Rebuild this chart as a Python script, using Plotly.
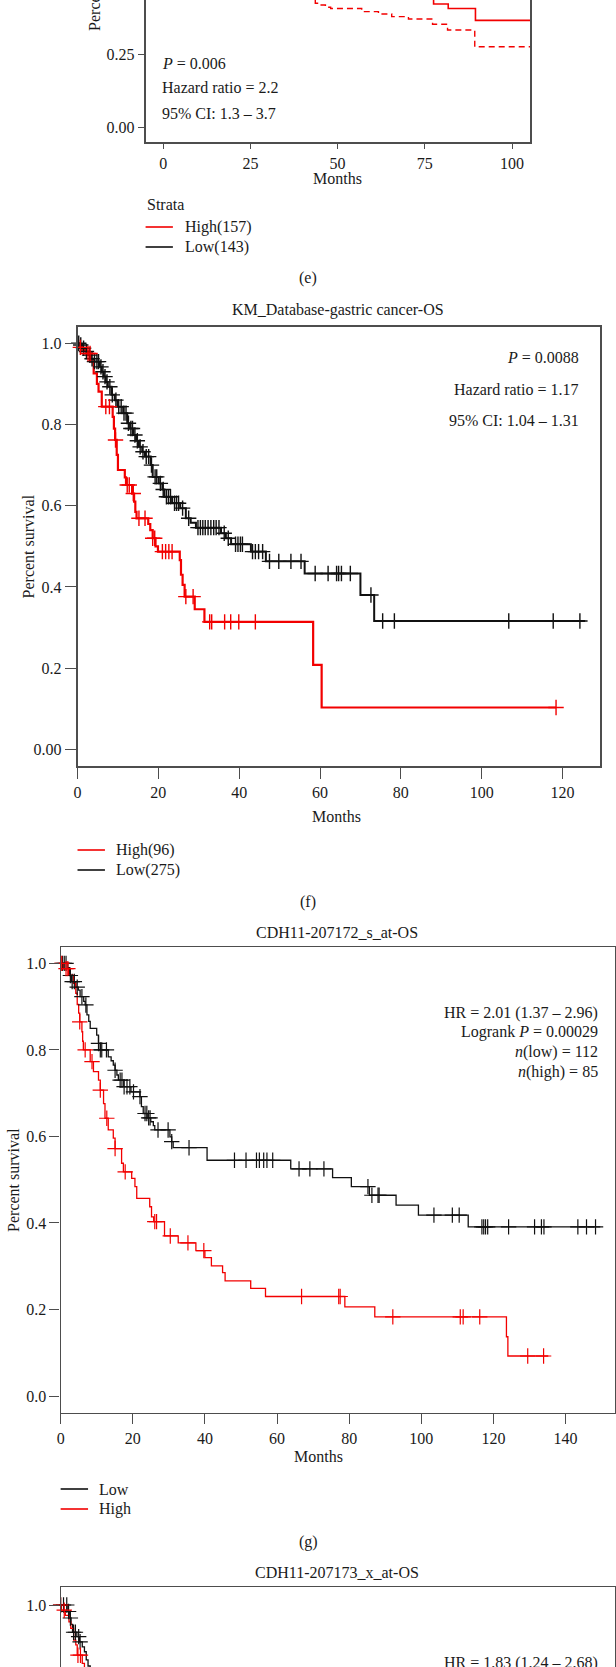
import plotly.graph_objects as go

W, H = 616, 1667
FONT = "Liberation Serif"
RED = "#f20000"
BLACK = "#111111"
AXC = "#4d4d4d"
TXT = "#1a1a1a"

# ---------------- data ----------------
# panel (e) (only lower part visible)
e_high_t = [60, 70, 77.5, 81.7, 89.5]
e_high_s = [0.47, 0.445, 0.421, 0.406, 0.365]
e_high_lo_t = [40, 42.6, 43.6, 45.0, 46.5, 48.0, 56.9, 61.7, 65.5, 70.3, 77.2, 81.5, 89.3]
e_high_lo_s = [0.46, 0.435, 0.424, 0.418, 0.41, 0.406, 0.395, 0.387, 0.378, 0.370, 0.352, 0.332, 0.275]
e_end = 105.4
e_xticks = [0, 25, 50, 75, 100]
e_yticks = [0.0, 0.25]
e_ylabels = ["0.00", "0.25"]

# panel (f)
f_high_t = [0, 0.5, 1.2, 2.2, 3.2, 4.0, 4.8, 5.2, 6.0, 8.7, 9.0, 9.3, 9.7, 10.0, 11.7, 12.0, 13.5, 14.0,
            14.3, 14.6, 17.5, 18.0, 18.6, 19.3, 19.9, 25.3, 25.6, 26.0, 26.5, 29.0, 31.4, 58.3, 60.4]
f_high_s = [1.0, 0.99, 0.983, 0.975, 0.955, 0.926, 0.90, 0.881, 0.844, 0.819, 0.79, 0.762, 0.725, 0.688,
            0.67, 0.651, 0.63, 0.61, 0.585, 0.569, 0.555, 0.540, 0.52, 0.50, 0.487, 0.466, 0.43, 0.405,
            0.376, 0.345, 0.314, 0.208, 0.103]
f_high_end = 118.4
f_high_cens = [0.7, 2.6, 3.1, 7.0, 7.9, 9.4, 12.3, 12.8, 13.8, 15.2, 16.7, 18.6, 19.1, 21.0, 21.8, 22.6,
               23.4, 26.8, 28.6, 32.7, 33.2, 36.4, 37.9, 39.9, 44.0, 118.4]
f_low_t = [0, 0.5, 1.2, 2.0, 2.6, 3.3, 4.1, 5.5, 6.0, 6.5, 7.0, 7.5, 8.4, 9.2, 9.9, 11.3, 12.3, 13.0,
           13.8, 14.5, 15.2, 16.0, 16.7, 18.1, 18.6, 20.1, 21.0, 21.5, 23.4, 25.4, 26.8, 28.0, 29.3,
           35.5, 36.7, 38.0, 42.9, 46.6, 56.2, 70.0, 73.4]
f_low_s = [1.0, 0.996, 0.988, 0.98, 0.971, 0.962, 0.955, 0.942, 0.93, 0.918, 0.905, 0.893, 0.873, 0.86,
           0.844, 0.828, 0.803, 0.79, 0.774, 0.76, 0.745, 0.733, 0.721, 0.70, 0.671, 0.655, 0.64, 0.622,
           0.606, 0.594, 0.569, 0.558, 0.546, 0.532, 0.52, 0.505, 0.487, 0.463, 0.433, 0.38, 0.316]
f_low_end = 125.6
f_low_cens = [0.3, 0.8, 1.5, 2.2, 3.0, 3.6, 4.2, 4.8, 5.2, 5.8, 6.3, 6.8, 7.3, 8.0, 8.6, 9.5, 10.2, 10.8,
              11.5, 12.0, 12.6, 13.2, 13.6, 14.2, 14.8, 15.5, 16.2, 17.0, 17.6, 18.3, 19.2, 19.6, 20.5,
              21.2, 22.0, 22.5, 23.0, 24.0, 24.5, 25.0, 26.0, 27.5, 29.8, 30.4, 31.0, 31.6, 32.3, 33.0,
              33.7, 34.3, 35.0, 36.3, 37.3, 39.1, 39.7, 40.3, 40.8, 43.3, 44.0, 44.8, 45.8, 47.5, 49.8,
              52.8, 55.3, 58.8, 62.0, 64.1, 64.6, 65.3, 67.5, 72.6, 75.5, 78.4, 106.7, 117.7, 124.3]
f_xticks = [0, 20, 40, 60, 80, 100, 120]
f_yticks = [0.0, 0.2, 0.4, 0.6, 0.8, 1.0]
f_ylabels = ["0.00", "0.2", "0.4", "0.6", "0.8", "1.0"]

# panel (g)
g_low_t = [0, 2.0, 2.5, 3.0, 4.2, 4.9, 5.4, 6.4, 6.8, 7.3, 7.8, 8.2, 10.0, 10.5, 11.0, 13.2, 14.0, 14.6,
           15.1, 15.6, 16.0, 17.5, 19.5, 22.0, 22.4, 22.9, 24.0, 25.0, 25.7, 26.1, 30.3, 30.8, 31.2,
           40.6, 63.8, 75.4, 80.6, 85.6, 93.0, 99.2, 113.0]
g_low_s = [1.0, 0.99, 0.972, 0.958, 0.945, 0.938, 0.923, 0.912, 0.904, 0.881, 0.866, 0.85, 0.834, 0.815,
           0.80, 0.784, 0.775, 0.765, 0.753, 0.742, 0.73, 0.715, 0.703, 0.692, 0.669, 0.653, 0.643,
           0.634, 0.625, 0.615, 0.599, 0.588, 0.574, 0.545, 0.525, 0.505, 0.484, 0.464, 0.441, 0.418,
           0.391]
g_low_end = 149.6
g_low_cens = [0.5, 1.0, 1.5, 2.7, 3.2, 3.8, 4.6, 5.9, 7.0, 10.5, 11.0, 11.4, 12.7, 15.1, 16.5, 17.0,
              17.6, 18.4, 19.2, 20.2, 22.0, 23.4, 23.9, 24.4, 24.8, 27.0, 29.8, 30.8, 35.6, 48.2, 51.4,
              54.3, 55.1, 56.3, 57.2, 58.8, 66.1, 69.1, 73.0, 85.2, 86.3, 88.0, 88.3, 103.5, 108.6,
              110.5, 116.8, 117.3, 117.8, 118.4, 124.2, 131.4, 133.3, 134.0, 143.4, 145.8, 148.3]
g_high_t = [0, 0.8, 2.2, 3.6, 4.2, 4.6, 5.0, 5.3, 5.9, 6.1, 6.3, 8.2, 9.1, 10.5, 11.0, 11.9, 12.3, 13.2,
            14.6, 15.1, 16.9, 17.4, 19.7, 20.6, 21.1, 24.7, 25.2, 25.8, 28.8, 32.6, 37.5, 40.0, 41.8,
            44.9, 45.6, 52.7, 56.8, 78.8, 87.1, 123.6, 124.0]
g_high_s = [1.0, 0.988, 0.973, 0.954, 0.931, 0.905, 0.885, 0.865, 0.842, 0.82, 0.80, 0.773, 0.75, 0.73,
            0.707, 0.676, 0.642, 0.615, 0.596, 0.572, 0.538, 0.518, 0.503, 0.484, 0.457, 0.4375, 0.414,
            0.403, 0.37, 0.354, 0.336, 0.32, 0.301, 0.285, 0.266, 0.249, 0.23, 0.206, 0.183, 0.137,
            0.0924]
g_high_end = 135.2
g_high_cens = [0.3, 1.5, 2.0, 5.3, 6.8, 8.7, 11.0, 12.8, 15.1, 17.9, 26.1, 26.6, 30.4, 35.3, 39.7, 66.8,
               77.1, 77.5, 92.1, 110.8, 111.6, 116.2, 129.5, 133.9]
g_xticks = [0, 20, 40, 60, 80, 100, 120, 140]
g_yticks = [0.0, 0.2, 0.4, 0.6, 0.8, 1.0]
g_ylabels = ["0.0", "0.2", "0.4", "0.6", "0.8", "1.0"]

# panel (h) (only top part visible)
h_low_t = [0, 1.8, 2.4, 2.9, 3.3, 4.5, 5.2, 6.0, 6.6, 7.1, 7.6, 8.2, 9.0]
h_low_s = [1.0, 0.985, 0.97, 0.955, 0.937, 0.927, 0.915, 0.903, 0.892, 0.873, 0.859, 0.84, 0.82]
h_low_end = 12
h_low_cens = [0.0, 0.8, 1.7, 2.2, 2.7, 3.6, 4.1, 5.0, 5.4]
h_high_t = [0, 0.2, 1.3, 2.3, 2.8, 3.6, 4.2, 4.6, 6.0, 6.6, 7.5, 8.5]
h_high_s = [1.0, 0.988, 0.976, 0.961, 0.946, 0.919, 0.908, 0.884, 0.865, 0.85, 0.83, 0.81]
h_high_end = 12
h_high_cens = [0.0, 1.0, 4.8, 5.5]


def step_at(times, surv, t):
    v = surv[0]
    for ti, si in zip(times, surv):
        if ti <= t:
            v = si
    return v


fig = go.Figure()


def add_km(times, surv, end, color, xa, ya, width, dash="solid"):
    fig.add_trace(go.Scatter(x=list(times) + [end], y=list(surv) + [surv[-1]], mode="lines",
                             line=dict(color=color, width=width, shape="hv", dash=dash),
                             xaxis=xa, yaxis=ya, showlegend=False, hoverinfo="skip"))


def add_cens(times, surv, cens, color, xa, ya, size=11, lw=1.3):
    fig.add_trace(go.Scatter(x=cens, y=[step_at(times, surv, c) for c in cens], mode="markers",
                             marker=dict(symbol="cross-thin", size=size, color=color,
                                         line=dict(color=color, width=lw)),
                             cliponaxis=False, xaxis=xa, yaxis=ya, showlegend=False,
                             hoverinfo="skip"))


# (e)
add_km(e_high_t, e_high_s, e_end, RED, "x", "y", 1.6)
add_km(e_high_lo_t, e_high_lo_s, e_end, RED, "x", "y", 1.4, dash="6px,4px")
# (f)
add_km(f_low_t, f_low_s, f_low_end, BLACK, "x2", "y2", 2.0)
add_km(f_high_t, f_high_s, f_high_end, RED, "x2", "y2", 2.2)
add_cens(f_low_t, f_low_s, f_low_cens, BLACK, "x2", "y2", size=11, lw=1.4)
add_cens(f_high_t, f_high_s, f_high_cens, RED, "x2", "y2", size=11, lw=1.4)
# (g)
add_km(g_low_t, g_low_s, g_low_end, BLACK, "x3", "y3", 1.3)
add_km(g_high_t, g_high_s, g_high_end, RED, "x3", "y3", 1.3)
add_cens(g_low_t, g_low_s, g_low_cens, BLACK, "x3", "y3", size=11, lw=1.2)
add_cens(g_high_t, g_high_s, g_high_cens, RED, "x3", "y3", size=11, lw=1.2)
# (h)
add_km(h_low_t, h_low_s, h_low_end, BLACK, "x4", "y4", 1.3)
add_km(h_high_t, h_high_s, h_high_end, RED, "x4", "y4", 1.3)
add_cens(h_low_t, h_low_s, h_low_cens, BLACK, "x4", "y4", size=11, lw=1.2)
add_cens(h_high_t, h_high_s, h_high_cens, RED, "x4", "y4", size=11, lw=1.2)


def dx(a, b):
    return [a / W, b / W]


def dy(top, bottom):
    return [max(0.0, 1 - bottom / H), min(1.0, 1 - top / H)]


tickfont = dict(family=FONT, size=16, color=TXT)
common = dict(showgrid=False, zeroline=False, showline=True, linecolor=AXC, ticks="outside",
              tickcolor=AXC, tickfont=tickfont)

fig.update_layout(
    width=W, height=H, margin=dict(l=0, r=0, t=0, b=0),
    paper_bgcolor="white", plot_bgcolor="white", showlegend=False,
    xaxis=dict(domain=dx(142.5, 529.5), range=[-5.04, 105.15], tickvals=e_xticks, anchor="y",
               ticklen=6, linewidth=1.5, mirror=False, **common),
    yaxis=dict(domain=dy(0, 141.7), range=[-0.0503, 0.4349], tickvals=e_yticks, ticktext=e_ylabels,
               anchor="x", ticklen=6, linewidth=1.5, mirror=True, **common),
    xaxis2=dict(domain=dx(74, 600), range=[0, 129.3], tickvals=f_xticks, anchor="y2", ticklen=11,
                linewidth=1.5, mirror=True, **common),
    yaxis2=dict(domain=dy(326.7, 766), range=[-0.0411, 1.0409], tickvals=f_yticks,
                ticktext=f_ylabels, anchor="x2", ticklen=11, linewidth=1.5, mirror=True, **common),
    xaxis3=dict(domain=dx(57, 615), range=[0, 153.7], tickvals=g_xticks, anchor="y3", ticklen=10,
                linewidth=1.3, mirror=True, **common),
    yaxis3=dict(domain=dy(946.7, 1413.3), range=[-0.04, 1.0386], tickvals=g_yticks,
                ticktext=g_ylabels, anchor="x3", ticklen=10, linewidth=1.3, mirror=True, **common),
    xaxis4=dict(domain=dx(57, 615), range=[0, 153.7], anchor="y4", side="top", showgrid=False,
                zeroline=False, showline=True, linecolor=AXC, linewidth=1.3, ticks="",
                showticklabels=False),
    yaxis4=dict(domain=dy(1586.7, H), range=[0.8567, 1.0423], tickvals=[1.0], ticktext=["1.0"],
                anchor="x4", ticklen=10, linewidth=1.3, mirror=True, **common),
)

ann = []


def text(s, x, y, xanchor="center", yanchor="middle", angle=0, size=16):
    ann.append(dict(text=s, x=x / W, y=1 - y / H, xref="paper", yref="paper", showarrow=False,
                    xanchor=xanchor, yanchor=yanchor, textangle=angle,
                    font=dict(family=FONT, size=size, color=TXT)))


# (e)
text("Percent survival", 91.5, 33, yanchor="bottom", angle=-90)
text("<i>P</i> = 0.006", 157.5, 63, xanchor="left")
text("Hazard ratio = 2.2", 157.5, 88, xanchor="left")
text("95% CI: 1.3 – 3.7", 156.7, 114, xanchor="left")
text("Months", 335.8, 179)
text("Strata", 142, 205, xanchor="left")
text("High(157)", 180, 227, xanchor="left")
text("Low(143)", 180, 247, xanchor="left")
text("(e)", 306, 278)
# (f)
text("KM_Database-gastric cancer-OS", 336.6, 310)
text("<i>P</i> = 0.0088", 581, 357.7, xanchor="right")
text("Hazard ratio = 1.17", 581, 389, xanchor="right")
text("95% CI: 1.04 – 1.31", 581, 421, xanchor="right")
text("Percent survival", 24.6, 546, angle=-90)
text("Months", 334.6, 816)
text("High(96)", 111, 850, xanchor="left")
text("Low(275)", 111, 870, xanchor="left")
text("(f)", 306, 902)
# (g)
text("CDH11-207172_s_at-OS", 335, 932)
text("HR = 2.01 (1.37 – 2.96)", 600, 1012.7, xanchor="right")
text("Logrank <i>P</i> = 0.00029", 600, 1032, xanchor="right")
text("<i>n</i>(low) = 112", 600, 1052, xanchor="right")
text("<i>n</i>(high) = 85", 600, 1072, xanchor="right")
text("Percent survival", 9, 1180, angle=-90)
text("Months", 317, 1456)
text("Low", 93.7, 1489, xanchor="left")
text("High", 93.7, 1509, xanchor="left")
text("(g)", 306, 1541.7)
# (h)
text("CDH11-207173_x_at-OS", 335, 1572)
text("HR = 1.83 (1.24 – 2.68)", 600, 1663, xanchor="right")

fig.update_layout(annotations=ann)

shapes = []


def legline(x0, x1, y, color):
    shapes.append(dict(type="line", xref="paper", yref="paper", x0=x0 / W, x1=x1 / W,
                       y0=1 - y / H, y1=1 - y / H, line=dict(color=color, width=1.6)))


legline(142.5, 170, 227, RED)
legline(142.5, 170, 247, BLACK)
legline(74, 101.6, 850, RED)
legline(74, 101.6, 870, BLACK)
legline(57, 84.6, 1489, BLACK)
legline(57, 84.6, 1509, RED)
fig.update_layout(shapes=shapes)

fig.write_html("out.html", config={"displayModeBar": False},
               post_script="document.body.style.margin='0';")
